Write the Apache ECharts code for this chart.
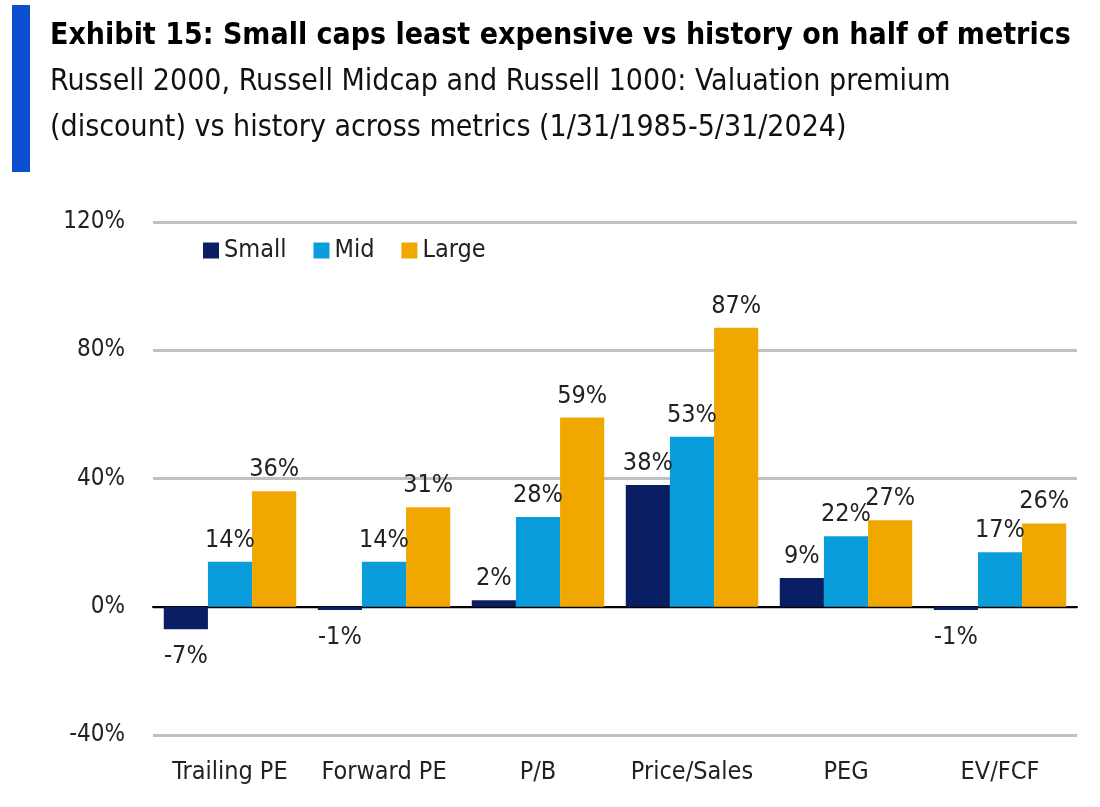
<!DOCTYPE html>
<html>
<head>
<meta charset="utf-8">
<script src="https://cdn.jsdelivr.net/npm/echarts@6/dist/echarts.min.js"></script>
<style>
  html, body { margin: 0; padding: 0; background: #fff; }
  #chart { width: 1100px; height: 807px; }
</style>
</head>
<body>
<div id="chart"></div>
<script>
// 数据
const categories = ['Trailing PE', 'Forward PE', 'P/B', 'Price/Sales', 'PEG', 'EV/FCF'];
const smallValues = [-7, -1, 2, 38, 9, -1];
const midValues = [14, 14, 28, 53, 22, 17];
const largeValues = [36, 31, 59, 87, 27, 26];
const yTicks = { min: -40, max: 120, interval: 40 };

const FONT = '"DejaVu Sans Condensed", "Liberation Sans Narrow", sans-serif';
const colors = { small: '#0a1f63', mid: '#0a9ddc', large: '#f0a800' };

function barSeries(name, values, color) {
    return {
        name: name,
        type: 'bar',
        // 负值标签放在柱子下方
        data: values.map(v => v < 0
            ? { value: v, label: { position: 'bottom', distance: 15 } }
            : v),
        barGap: '0%',
        barCategoryGap: '14%',
        itemStyle: { color: color },
        label: {
            show: true,
            position: 'top',
            distance: 9,
            fontFamily: FONT,
            fontSize: 25,
            color: '#222',
            formatter: (p) => p.value + '%'
        }
    };
}

const chart = echarts.init(document.getElementById('chart'));

chart.setOption({
    animation: false,
    backgroundColor: '#fff',
    graphic: [
        { type: 'rect', left: 12, top: 5, shape: { width: 18, height: 167 }, style: { fill: '#0b4fd0' } },
        { type: 'text', left: 50, top: 21, style: {
            text: 'Exhibit 15: Small caps least expensive vs history on half of metrics',
            font: 'bold 30px ' + FONT, fill: '#000' } },
        { type: 'text', left: 50, top: 67, style: {
            text: 'Russell 2000, Russell Midcap and Russell 1000: Valuation premium',
            font: '30px ' + FONT, fill: '#111' } },
        { type: 'text', left: 50, top: 113, style: {
            text: '(discount) vs history across metrics (1/31/1985-5/31/2024)',
            font: '30px ' + FONT, fill: '#111' } }
    ],
    legend: {
        left: 198,
        top: 233,
        itemWidth: 16,
        itemHeight: 16,
        itemGap: 27,
        icon: 'rect',
        textStyle: { fontFamily: FONT, fontSize: 25, color: '#222' },
        data: ['Small', 'Mid', 'Large']
    },
    grid: { left: 153, right: 23, top: 222, bottom: 72, outerBoundsMode: 'none', containLabel: false },
    xAxis: {
        type: 'category',
        data: categories,
        axisLine: { show: true, onZero: true, lineStyle: { color: '#000', width: 2 } },
        axisTick: { show: false },
        axisLabel: { interval: 0, fontFamily: FONT, fontSize: 25, color: '#222', margin: 25 }
    },
    yAxis: {
        type: 'value',
        min: yTicks.min,
        max: yTicks.max,
        interval: yTicks.interval,
        axisLine: { show: false },
        axisTick: { show: false },
        splitLine: { lineStyle: { color: '#c0c0c0', width: 3 } },
        axisLabel: { fontFamily: FONT, fontSize: 24, color: '#222', margin: 28, formatter: '{value}%' }
    },
    series: [
        barSeries('Small', smallValues, colors.small),
        barSeries('Mid', midValues, colors.mid),
        barSeries('Large', largeValues, colors.large)
    ]
});
</script>
</body>
</html>
